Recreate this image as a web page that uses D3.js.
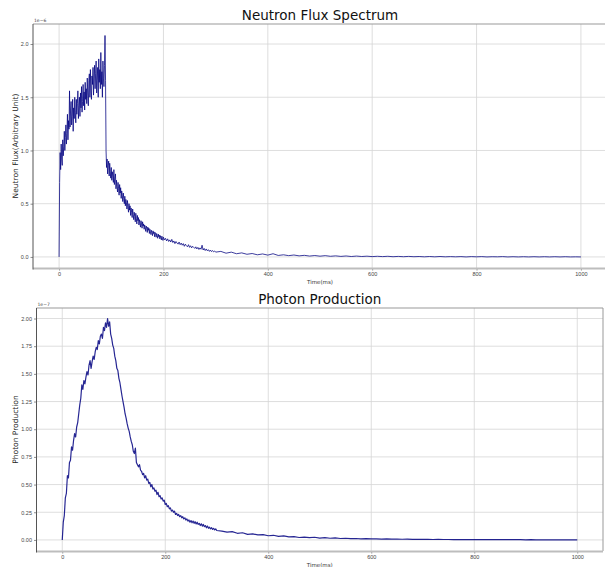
<!DOCTYPE html>
<html>
<head>
<meta charset="utf-8">
<script src="https://d3js.org/d3.v7.min.js"></script>
<style>
body { margin: 0; background: #fff; }
svg { display: block; font-family: "DejaVu Sans", sans-serif; }
</style>
</head>
<body>
<svg width="605" height="567"></svg>
<script>
// x ticks shared by both panels
var timeTicks = [0, 200, 400, 600, 800, 1000];

// neutron flux (units of 1e-6)
var neutronRiseStart = 0, neutronRiseStep = 1;
var neutronRise = [0, 0.70, 0.98, 0.82, 1.06, 0.92, 0.86, 1.10, 0.95, 1.04,
  1.18, 1.00, 1.12, 1.24, 1.06, 1.16, 1.34, 1.10, 1.28, 1.20,
  1.56, 1.22, 1.38, 1.46, 1.24, 1.32, 1.48, 1.18, 1.40, 1.30,
  1.50, 1.36, 1.26, 1.48, 1.34, 1.44, 1.56, 1.30, 1.42, 1.50,
  1.32, 1.54, 1.40, 1.60, 1.36, 1.46, 1.62, 1.42, 1.55, 1.38,
  1.64, 1.48, 1.58, 1.44, 1.68, 1.52, 1.42, 1.66, 1.72, 1.50,
  1.76, 1.56, 1.48, 1.70, 1.62, 1.78, 1.52, 1.68, 1.80, 1.58,
  1.72, 1.84, 1.54, 1.66, 1.78, 1.50, 1.86, 1.64, 1.76, 1.58,
  1.92, 1.62, 1.74, 1.50, 1.84, 1.68, 1.60, 1.80, 2.08, 1.66];
var neutronDecayStart = 90, neutronDecayStep = 1;
var neutronDecay = [1.00, 0.84, 0.92, 0.78, 0.86, 0.90, 0.76, 0.88, 0.80, 0.74,
  0.84, 0.72, 0.80, 0.76, 0.70, 0.82, 0.68, 0.74, 0.78, 0.64,
  0.72, 0.66, 0.61, 0.70, 0.64, 0.58, 0.68, 0.60, 0.65, 0.55,
  0.62, 0.58, 0.52, 0.60, 0.55, 0.50, 0.57, 0.48, 0.54, 0.51,
  0.45, 0.53, 0.47, 0.42, 0.50, 0.44, 0.48, 0.39, 0.46, 0.42,
  0.37, 0.45, 0.40, 0.35, 0.42, 0.38, 0.33, 0.41, 0.36, 0.31,
  0.39, 0.34, 0.37, 0.30, 0.35, 0.32, 0.28, 0.34, 0.31, 0.27,
  0.33, 0.29, 0.31, 0.26, 0.30, 0.28, 0.24, 0.29, 0.27, 0.23,
  0.28, 0.25, 0.27, 0.22, 0.26, 0.24, 0.21, 0.25, 0.23, 0.20,
  0.245, 0.22, 0.235, 0.19, 0.23, 0.21, 0.185, 0.22, 0.20, 0.175,
  0.215, 0.19, 0.205, 0.17, 0.20, 0.18, 0.16, 0.195, 0.175, 0.155];
var neutronLateStart = 200, neutronLateStep = 2;
var neutronLate = [0.185, 0.16, 0.175, 0.15, 0.17, 0.145, 0.16, 0.14, 0.165, 0.135,
  0.15, 0.125, 0.145, 0.13, 0.12, 0.14, 0.115, 0.13, 0.11, 0.125,
  0.10, 0.12, 0.105, 0.095, 0.115, 0.09, 0.105, 0.085, 0.10, 0.09,
  0.08, 0.095, 0.075, 0.09, 0.07, 0.085, 0.072, 0.11, 0.065, 0.08,
  0.06, 0.075, 0.058, 0.068, 0.052, 0.065, 0.05, 0.06, 0.048, 0.056];
var neutronTailStart = 300, neutronTailStep = 10;
var neutronTail = [0.045, 0.052, 0.035, 0.045, 0.03, 0.038, 0.025, 0.032, 0.02, 0.028,
  0.017, 0.03, 0.014, 0.02, 0.012, 0.018, 0.01, 0.015, 0.008, 0.013,
  0.007, 0.012, 0.006, 0.01, 0.005, 0.009, 0.004, 0.008, 0.004, 0.007,
  0.003, 0.006, 0.003, 0.006, 0.002, 0.005, 0.002, 0.005, 0.002, 0.004,
  0.001, 0.004, 0.001, 0.004, 0.001, 0.003, 0.001, 0.003, 0.0, 0.003,
  0.001, 0.003, 0.0, 0.002, 0.001, 0.003, 0.0, 0.002, 0.0, 0.002,
  0.0, 0.002, 0.0, 0.002, 0.0, 0.002, 0.0, 0.002, 0.0, 0.001, 0.0];
var neutronTicks = [0, 0.5, 1.0, 1.5, 2.0];

// photon production (units of 1e-7)
var photonMainStart = 0, photonMainStep = 2;
var photonMain = [0.00, 0.16, 0.22, 0.38, 0.42, 0.58, 0.56, 0.70, 0.72, 0.84,
  0.81, 0.90, 0.96, 0.93, 1.02, 1.06, 1.14, 1.22, 1.28, 1.40,
  1.36, 1.44, 1.41, 1.47, 1.52, 1.49, 1.58, 1.62, 1.55, 1.61,
  1.66, 1.63, 1.70, 1.74, 1.72, 1.80, 1.77, 1.84, 1.86, 1.82,
  1.92, 1.89, 1.96, 1.92, 2.00, 1.93, 1.97, 1.86, 1.82, 1.76,
  1.73, 1.66, 1.62, 1.55, 1.53, 1.46, 1.42, 1.36, 1.30, 1.25,
  1.20, 1.14, 1.10, 1.05, 1.01, 0.98, 0.93, 0.89, 0.86, 0.80,
  0.78, 0.83, 0.70, 0.68, 0.66, 0.68, 0.63, 0.62, 0.59, 0.60,
  0.56, 0.58, 0.54, 0.55, 0.51, 0.52, 0.48, 0.50, 0.46, 0.47,
  0.44, 0.45, 0.41, 0.43, 0.39, 0.40, 0.37, 0.38, 0.35, 0.36,
  0.32, 0.33, 0.30, 0.31, 0.28, 0.29, 0.26, 0.27, 0.25, 0.26,
  0.23, 0.24, 0.22, 0.23, 0.21, 0.22, 0.20, 0.21, 0.19, 0.20,
  0.18, 0.19, 0.17, 0.18, 0.16, 0.175, 0.155, 0.17, 0.15, 0.165,
  0.145, 0.16, 0.14, 0.15, 0.13, 0.145, 0.125, 0.14, 0.12, 0.13,
  0.11, 0.125, 0.105, 0.115, 0.10, 0.11, 0.095, 0.105, 0.09, 0.10,
  0.085];
var photonTailStart = 310, photonTailStep = 10;
var photonTail = [0.08, 0.07, 0.075, 0.06, 0.065, 0.05, 0.055, 0.045, 0.048, 0.038,
  0.042, 0.032, 0.036, 0.028, 0.03, 0.022, 0.026, 0.02, 0.024, 0.017,
  0.02, 0.015, 0.018, 0.013, 0.015, 0.011, 0.013, 0.01, 0.012, 0.009,
  0.01, 0.008, 0.009, 0.007, 0.008, 0.006, 0.007, 0.005, 0.006, 0.005,
  0.005, 0.004, 0.005, 0.004, 0.004, 0.003, 0.004, 0.003, 0.003, 0.003,
  0.003, 0.002, 0.003, 0.002, 0.002, 0.002, 0.002, 0.002, 0.002, 0.001,
  0.002, 0.001, 0.001, 0.001, 0.001, 0.001, 0.001, 0.001, 0.001, 0.001];
var photonTicks = [0, 0.25, 0.5, 0.75, 1.0, 1.25, 1.5, 1.75, 2.0];

function seg(start, step, vals) {
  return vals.map(function(v, i) { return [start + i * step, v]; });
}

var svg = d3.select("svg");

function drawPanel(p) {
  var x = d3.scaleLinear().domain([-50, 1050]).range([p.left, p.right]);
  var y = d3.scaleLinear().domain(p.yDomain).range([p.bottom, p.top]);
  var g = svg.append("g");

  // grid
  g.selectAll(".vg").data(timeTicks).enter().append("line")
    .attr("x1", function(d) { return x(d); }).attr("x2", function(d) { return x(d); })
    .attr("y1", p.top).attr("y2", p.bottom)
    .attr("stroke", "#d6d6d6").attr("stroke-width", 0.8);
  g.selectAll(".hg").data(p.yTicks).enter().append("line")
    .attr("x1", p.left).attr("x2", p.right)
    .attr("y1", function(d) { return y(d); }).attr("y2", function(d) { return y(d); })
    .attr("stroke", "#d6d6d6").attr("stroke-width", 0.8);

  // data
  var line = d3.line().x(function(d) { return x(d[0]); }).y(function(d) { return y(d[1]); });
  g.append("path").datum(p.points)
    .attr("d", line)
    .attr("fill", "none")
    .attr("stroke", "#000080")
    .attr("stroke-width", p.lw)
    .attr("stroke-opacity", 0.85)
    .attr("stroke-linejoin", "round");

  // axes
  var xa = g.append("g").attr("transform", "translate(0," + p.bottom + ")")
    .call(d3.axisBottom(x).tickValues(timeTicks).tickSize(2.5).tickPadding(1.5).tickFormat(d3.format("d")));
  var ya = g.append("g").attr("transform", "translate(" + p.left + ",0)")
    .call(d3.axisLeft(y).tickValues(p.yTicks).tickSize(2.5).tickPadding(2).tickFormat(d3.format(p.fmt)));
  [xa, ya].forEach(function(a) {
    a.select(".domain").remove();
    a.selectAll("line").attr("stroke", "#444").attr("stroke-width", 0.6);
    a.selectAll("text").style("font-size", "5.5px").attr("fill", "#444");
  });

  // spines
  g.append("line").attr("x1", p.left).attr("x2", p.right).attr("y1", p.top).attr("y2", p.top)
    .attr("stroke", "#999").attr("stroke-width", 1);
  g.append("line").attr("x1", p.right).attr("x2", p.right).attr("y1", p.top).attr("y2", p.bottom)
    .attr("stroke", "#999").attr("stroke-width", 1);
  g.append("line").attr("x1", p.left).attr("x2", p.right).attr("y1", p.bottom + 0.5).attr("y2", p.bottom + 0.5)
    .attr("stroke", "#bdbdbd").attr("stroke-width", 2);
  g.append("line").attr("x1", p.left).attr("x2", p.left).attr("y1", p.top).attr("y2", p.bottom + 1.5)
    .attr("stroke", "#555").attr("stroke-width", 1);

  // texts
  g.append("text").text(p.title)
    .attr("x", (p.left + p.right) / 2).attr("y", p.top - 4)
    .attr("text-anchor", "middle").style("font-size", "13.5px").attr("fill", "#111");
  g.append("text").text(p.offset)
    .attr("x", p.left + 1).attr("y", p.top - 2)
    .style("font-size", "4.5px").attr("fill", "#444");
  g.append("text").text("Time(ms)")
    .attr("x", (p.left + p.right) / 2).attr("y", p.bottom + 16)
    .attr("text-anchor", "middle").style("font-size", "5.5px").attr("fill", "#333");
  g.append("text").text(p.ylabel)
    .attr("transform", "translate(18," + ((p.top + p.bottom) / 2) + ") rotate(-90)")
    .attr("text-anchor", "middle").style("font-size", "7.5px").attr("fill", "#222");
}

drawPanel({
  left: 33, right: 607, top: 24, bottom: 268, lw: 0.9,
  yDomain: [-0.104, 2.188], yTicks: neutronTicks, fmt: ".1f",
  title: "Neutron Flux Spectrum", ylabel: "Neutron Flux(Arbitrary Unit)", offset: "1e\u22126",
  points: seg(neutronRiseStart, neutronRiseStep, neutronRise)
    .concat(seg(neutronDecayStart, neutronDecayStep, neutronDecay))
    .concat(seg(neutronLateStart, neutronLateStep, neutronLate))
    .concat(seg(neutronTailStart, neutronTailStep, neutronTail))
});

drawPanel({
  left: 36.5, right: 603, top: 308, bottom: 551, lw: 1.2,
  yDomain: [-0.1, 2.095], yTicks: photonTicks, fmt: ".2f",
  title: "Photon Production", ylabel: "Photon Production", offset: "1e\u22127",
  points: seg(photonMainStart, photonMainStep, photonMain)
    .concat(seg(photonTailStart, photonTailStep, photonTail))
});
</script>
</body>
</html>
